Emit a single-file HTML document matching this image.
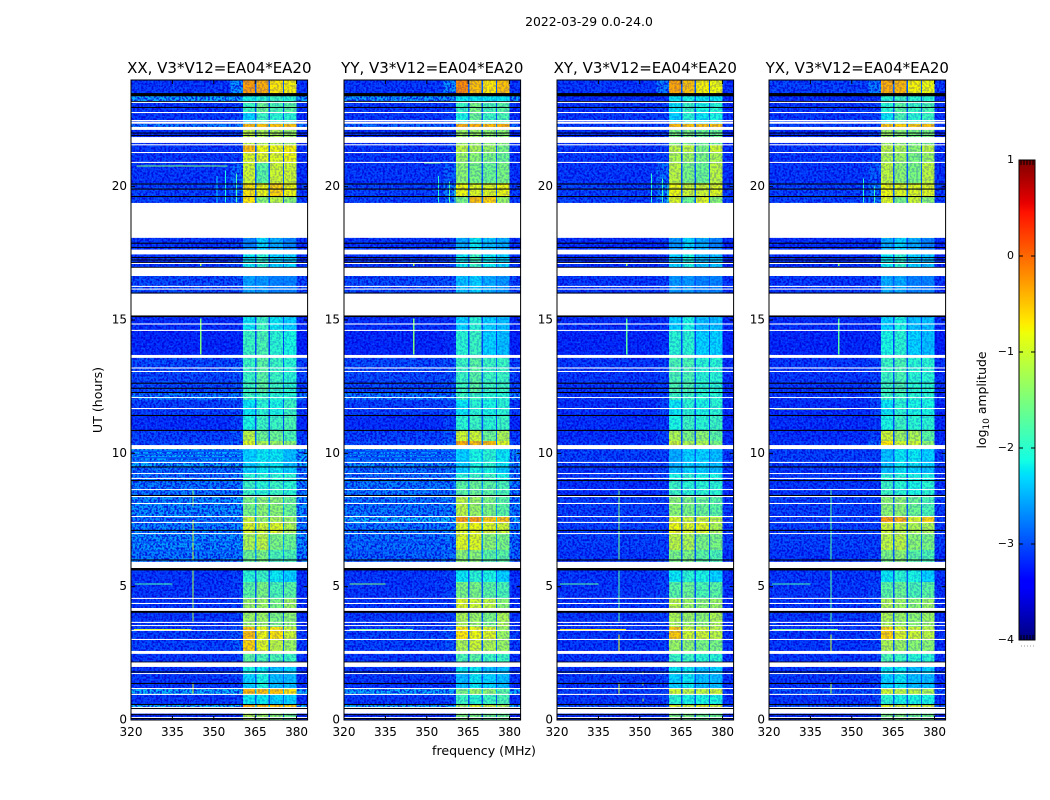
<!DOCTYPE html>
<html>
<head>
<meta charset="utf-8">
<title>2022-03-29 0.0-24.0</title>
<style>
html,body{margin:0;padding:0;background:#fff;}
svg{display:block;}
text{font-family:"DejaVu Sans","Liberation Sans",sans-serif;fill:#000;}
</style>
</head>
<body>
<svg id="chart" width="1050" height="800" viewBox="0 0 1050 800" xmlns="http://www.w3.org/2000/svg">
  <defs>
    <filter id="noiseDark" x="0" y="0" width="1" height="1" color-interpolation-filters="sRGB">
      <feTurbulence type="fractalNoise" baseFrequency="0.48" numOctaves="1" seed="3"/>
      <feColorMatrix type="matrix" values="0 0 0 0 0  0 0 0 0 0  0 0 0 0 0.85  6 0 0 0 -2.6"/>
    </filter>
    <filter id="noiseLight" x="0" y="0" width="1" height="1" color-interpolation-filters="sRGB">
      <feTurbulence type="fractalNoise" baseFrequency="0.48" numOctaves="1" seed="11"/>
      <feColorMatrix type="matrix" values="0 0 0 0 0.05  0 0 0 0 0.5  0 0 0 0 1  6 0 0 0 -3.2"/>
    </filter>
  </defs>
  <text x="589" y="26" font-size="12.4" text-anchor="middle">2022-03-29 0.0-24.0</text>
  <text x="484" y="755" font-size="12.6" text-anchor="middle">frequency (MHz)</text>
  <text transform="translate(102,400) rotate(-90)" font-size="12.6" text-anchor="middle">UT (hours)</text>
  <text transform="translate(986,400) rotate(-90)" font-size="12.4" text-anchor="middle">log<tspan font-size="9" dy="3">10</tspan><tspan dy="-3"> amplitude</tspan></text>
  <g id="panels"></g>
  <g id="colorbar"></g>
</svg>
<script>
// ---- categories and ticks ----
const panelNames = ['XX, V3*V12=EA04*EA20','YY, V3*V12=EA04*EA20','XY, V3*V12=EA04*EA20','YX, V3*V12=EA04*EA20'];
const freqTicks = [320,335,350,365,380];
const hourTicks = [0,5,10,15,20];
const colorbarTicks = [-4,-3,-2,-1,0,1];

// frequency columns (MHz); columnSource picks the value index in each row
const columnEdges = [320,356,360.5,365,365.5,369.8,370.4,375,375.5,380,384];
const columnSource = [0,1,2,-1,3,-1,4,-1,5,0];

// time rows: upper edge in UT hours of each row, last entry closes the final row
const rowEdges = [24,23.40,23.14,22.76,22.35,22.13,21.56,21.26,20.89,20.14,19.61,18.08,17.63,16.65,15.11,14.63,13.58,12.30,12.00,11.44,10.84,10.46,10.16,9.49,9.26,8.96,8.40,7.61,7.39,6.98,6.38,5.70,5.18,4.58,4.05,3.49,3.00,2.48,1.99,1.73,1.16,0.94,0.56,0.45,0];

// log10 amplitude per row: [bg-low, bg-high, band1, band2, band3, band4]
const valuesXX = [
[-3.05,-2.6,-.3,-.4,-.7,-.75],[-2.5,-2.5,-2.1,-2,-1.9,-2],[-3.05,-3,-1.9,-1.6,-1.8,-1.7],[-3.05,-3,-2.3,-1.9,-2,-2],
[-2.7,-2.7,-.45,-.5,-.5,-.5],[-3.1,-3,-1.1,-1.2,-1.2,-1.3],[-3.05,-3,-.5,-.8,-.8,-.75],[-3.05,-3,-.9,-.9,-.9,-.8],
[-3.05,-2.8,-1,-1.7,-1,-1],[-3,-2.8,-.7,-.8,-.6,-.8],[-3,-2.8,-.7,-1.4,-1.1,-1.4],[-3.05,-3,-2.7,-2.3,-2.5,-2.7],
[-3.05,-3,-2.2,-2,-2.3,-2.3],[-2.95,-2.9,-2.55,-2.6,-2.7,-2.7],[-3.1,-3.1,-2.2,-1.9,-2.2,-2.3],[-3.15,-3.15,-1.9,-1.8,-2,-2.1],
[-2.95,-2.9,-1.9,-1.7,-1.9,-2],[-2.7,-2.7,-1.9,-1.9,-2,-2],[-3,-2.95,-2.2,-2,-2.1,-1.9],[-3.1,-3,-2.1,-1.9,-1.9,-1.8],
[-3,-2.9,-1.1,-1.6,-1.6,-1.8],[-2.95,-2.85,-.9,-1.2,-1.3,-1.4],[-2.5,-2.5,-2.3,-2.2,-2.2,-2.4],[-2.75,-2.7,-2.3,-2.2,-2.2,-2.3],
[-2.75,-2.7,-2,-2,-2,-2],[-2.7,-2.7,-1.9,-2,-1.9,-2],[-2.6,-2.55,-1.5,-1.4,-1.4,-1.6],[-2.7,-2.6,-1,-1.3,-1.2,-1.3],
[-2.65,-2.6,-.9,-1,-.9,-1.2],[-2.6,-2.6,-1.2,-1.1,-1.5,-1.6],[-2.7,-2.7,-1.6,-1.5,-1.8,-1.8],[-3.05,-3,-2,-1.9,-2.2,-2.3],
[-3.05,-3,-1.7,-1.5,-1.8,-1.7],[-3.05,-3,-1.3,-1.3,-1.5,-1.3],[-3.05,-3,-1.3,-1.3,-1.5,-1.4],[-3,-2.9,-.5,-.8,-.7,-1],
[-3,-2.85,-.6,-.9,-1.1,-1.3],[-3.05,-3,-1.7,-1.8,-1.8,-1.9],[-3.05,-3,-2.1,-2.2,-2.4,-2.3],[-3.05,-3,-2.3,-2.1,-2.4,-2.4],
[-2.45,-2.45,-.45,-.5,-.5,-.7],[-3.05,-3,-2.2,-2.2,-2.3,-2.3],[-2.4,-2.4,-.4,-.5,-.5,-.6],[-3.1,-3.05,-1.2,-1.3,-1.4,-1.6]];

const valuesYY = [
[-3.05,-2.6,-.2,-.5,-.7,-.5],[-2.55,-2.55,-2.2,-2.2,-2.2,-2.2],[-3.05,-3,-1.9,-1.5,-1.8,-1.7],[-3.05,-3,-2.1,-1.6,-1.9,-1.8],
[-2.8,-2.8,-.4,-.4,-.45,-.4],[-3.1,-3,-1.3,-1.3,-1.4,-1.4],[-3.05,-3,-1.1,-1.2,-1.3,-1.5],[-3.05,-3,-1.3,-1.4,-1.5,-1.6],
[-3.05,-2.85,-1.4,-1.5,-1.6,-1.5],[-3,-2.7,-.8,-.9,-.9,-.8],[-3,-2.8,-1.5,-.5,-.6,-1.3],[-3.05,-3,-2.5,-2.2,-2.4,-2.5],
[-3.05,-3,-2.2,-1.9,-2.2,-2.3],[-2.95,-2.9,-2.4,-2.3,-2.5,-2.6],[-3.1,-3.1,-2.3,-2,-2.3,-2.4],[-3.15,-3.1,-2,-1.9,-2.3,-2.4],
[-2.95,-2.9,-1.9,-1.7,-1.9,-1.9],[-2.7,-2.7,-1.9,-1.9,-2,-2],[-3,-2.95,-2.2,-2,-2.1,-2],[-3.1,-3,-2,-1.9,-2,-1.9],
[-3,-2.9,-1,-1,-1.6,-1.2],[-2.95,-2.8,-.4,-.5,-.5,-.9],[-2.6,-2.6,-2.3,-2.1,-2,-2.2],[-2.75,-2.7,-2.3,-2.1,-2.1,-2.3],
[-2.75,-2.7,-2,-1.9,-1.9,-2.1],[-2.7,-2.7,-1.7,-1.6,-1.7,-1.8],[-2.7,-2.65,-1.1,-1.3,-1.5,-1.7],[-2.45,-2.4,-.3,-.3,-.55,-.5],
[-2.7,-2.65,-.9,-.8,-.9,-1],[-2.75,-2.7,-.9,-.9,-1.4,-1.5],[-2.8,-2.75,-1.4,-1.4,-1.7,-1.7],[-3.05,-3,-2.2,-2,-2.1,-2.3],
[-3.05,-3,-1.5,-1.5,-1.7,-1.8],[-3.05,-3,-.9,-1,-1.1,-1.4],[-3.05,-3,-1.2,-1.3,-1.5,-1.2],[-3,-2.9,-.7,-.8,-.9,-1.3],
[-3,-2.9,-1.2,-1,-1.2,-1.3],[-3.05,-3,-1.8,-1.7,-1.9,-1.9],[-3.05,-3,-2.2,-2.2,-2.4,-2.4],[-3.05,-3,-2.4,-2.2,-2.3,-2.4],
[-2.5,-2.5,-1.5,-1.3,-1.4,-1.7],[-3.05,-3,-1.9,-2,-1.9,-1.8],[-2.45,-2.45,-1.3,-.9,-1,-1.2],[-3.1,-3.05,-1.5,-1.5,-1.6,-1.6]];

const valuesXY = [
[-3.05,-2.7,-.35,-.5,-.75,-.8],[-3.1,-3.1,-2.2,-2.1,-2.2,-2.2],[-3.05,-3,-2.2,-1.9,-2.1,-2],[-3.05,-3,-2.3,-2,-2.2,-2.1],
[-3,-2.95,-.45,-.5,-.5,-.5],[-3.1,-3,-1.5,-1.5,-1.6,-1.6],[-3.05,-3,-1.1,-1.1,-1.5,-1],[-3.05,-3,-1.2,-1.3,-1.5,-1.2],
[-3.05,-2.8,-1.1,-1.5,-1.6,-1.1],[-3,-2.7,-.8,-1,-1,-.9],[-3,-2.7,-.9,-1.6,-.9,-1.4],[-3.1,-3.05,-2.6,-2.3,-2.5,-2.7],
[-3.1,-3.05,-2.3,-2.1,-2.4,-2.4],[-3.05,-3,-2.6,-2.6,-2.7,-2.7],[-3.1,-3.1,-2.3,-2.1,-2.4,-2.4],[-3.15,-3.1,-2,-2,-2.3,-2.3],
[-3.05,-3,-1.8,-1.8,-2,-2],[-3.05,-3,-1.9,-1.9,-2,-2],[-3.1,-3,-2.2,-2,-2.1,-2],[-3.1,-3.05,-2.1,-1.9,-2,-1.9],
[-3.1,-3,-1.2,-1.5,-1.4,-1.7],[-3.05,-2.95,-1,-1.2,-1.2,-1.5],[-3,-3,-2.5,-2.3,-2.3,-2.4],[-3.05,-3,-2.4,-2.3,-2.3,-2.4],
[-3.05,-3,-2.1,-2,-2.1,-2.1],[-3.1,-3.05,-1.9,-2,-2,-2],[-3,-3,-1.4,-1.5,-1.6,-1.7],[-3,-3,-.9,-1,-1,-1.1],
[-3,-3,-.8,-.9,-.9,-1.2],[-3,-3,-1.1,-1.2,-1.5,-1.5],[-3.05,-3,-1.5,-1.5,-1.7,-1.8],[-3.05,-3,-2.2,-2,-2.1,-2.3],
[-3.05,-3,-1.7,-1.6,-1.8,-1.7],[-3.05,-3,-1.1,-1.3,-1.4,-1.3],[-3.05,-3,-1.2,-1.3,-1.4,-1.2],[-3.05,-3,-.55,-1,-1,-1.1],
[-3.05,-3,-1.3,-1.4,-1.5,-1.5],[-3.05,-3,-1.9,-1.9,-2,-2],[-3.05,-3,-2.2,-2.2,-2.4,-2.3],[-3.05,-3,-2.3,-2.2,-2.4,-2.4],
[-3,-3,-1,-1.1,-1.1,-1],[-3.05,-3,-2,-2.1,-2.1,-2.1],[-2.9,-2.9,-.9,-1,-.9,-1],[-3.1,-3.05,-1.5,-1.5,-1.6,-1.6]];

const valuesYX = [
[-3,-2.7,-.4,-.45,-.75,-.8],[-3.1,-3.1,-2,-1.9,-2,-2],[-3.05,-3,-2,-1.7,-1.9,-1.8],[-3.05,-3,-2.2,-1.8,-2,-1.9],
[-3,-2.95,-.5,-.55,-.55,-.5],[-3.1,-3,-1.3,-1.4,-1.5,-1.5],[-3.05,-3,-1.1,-1.2,-1.4,-1.1],[-3.05,-3,-1.2,-1.3,-1.5,-1.3],
[-3.05,-2.85,-1.1,-1.4,-1.5,-1.1],[-3,-2.75,-.8,-.9,-.9,-.9],[-3,-2.75,-.9,-1.5,-1,-1.4],[-3.1,-3.05,-2.5,-2.3,-2.5,-2.7],
[-3.1,-3.05,-2.2,-2,-2.3,-2.4],[-3.05,-3,-2.5,-2.5,-2.7,-2.7],[-3.1,-3.1,-2.3,-2.1,-2.4,-2.4],[-3.15,-3.1,-2.1,-2,-2.3,-2.4],
[-3.05,-3,-1.9,-1.8,-2,-2],[-3.05,-3,-1.9,-1.9,-2,-2],[-3.1,-3,-2.2,-2,-2.1,-2.1],[-3.1,-3.05,-2.1,-1.9,-2,-2],
[-3.1,-3,-1,-1.3,-1.2,-1.7],[-3.05,-2.8,-.7,-1,-1,-1.4],[-3,-3,-2.4,-2.2,-2.2,-2.3],[-3.05,-3,-2.4,-2.2,-2.3,-2.4],
[-3.05,-3,-2,-2,-2.1,-2.1],[-3.05,-3.05,-1.9,-2,-2.1,-2],[-3,-3,-1.4,-1.4,-1.6,-1.8],[-3,-3,-.3,-.4,-.9,-.6],
[-3,-3,-1,-1.1,-1.2,-1.2],[-3,-3,-1.1,-1.1,-1.4,-1.5],[-3.05,-3,-1.5,-1.4,-1.7,-1.8],[-3.05,-3,-2.2,-2,-2.1,-2.3],
[-3.05,-3,-1.7,-1.6,-1.8,-1.7],[-3.05,-3,-1.2,-1.3,-1.4,-1.3],[-3.05,-3,-1.2,-1.3,-1.4,-1.3],[-3.05,-3,-.6,-.9,-1,-1.1],
[-3.05,-3,-1.2,-1.3,-1.4,-1.4],[-3.05,-3,-1.8,-1.9,-2,-2],[-3.05,-3,-2.2,-2.2,-2.4,-2.3],[-3.05,-3,-2.3,-2.2,-2.4,-2.4],
[-2.9,-2.9,-1,-1.1,-1.1,-1.2],[-3.05,-3,-2,-2.1,-2.1,-2.1],[-2.9,-2.9,-.9,-1,-1,-1],[-3.1,-3.05,-1.5,-1.5,-1.6,-1.6]];

const panelValues = [valuesXX,valuesYY,valuesXY,valuesYX];

// narrow-band interference and faint stripes: [freqStart, freqEnd, hourTop, hourBottom, value]
const spikesXX = [[345,345.5,15.05,13.7,-1.5],[342.2,342.55,8.6,8,-1.4],[342.2,342.55,7.5,6,-1],[342.2,342.55,5.6,3.7,-1.2],[342.2,342.55,1.4,1,-1],[321.5,335,5.12,5.08,-1.8],[321,342,3.42,3.38,-.9],[322,355,20.8,20.76,-1.5],[354,354.35,20.6,19.4,-2.1],[358,358.35,20.5,19.4,-1.8],[351,351.35,20.4,19.4,-2.3],[345,345.6,17.1,17.02,-1.2],[320,360.5,10.1,10.05,-2.95],[320,360.5,9.98,9.93,-2.95],[320,360.5,9.86,9.81,-2.95],[320,360.5,9.74,9.69,-2.95],[320,360.5,6.7,6.66,-2.95],[320,360.5,6.35,6.31,-2.95]];
const spikesYY = [[345,345.5,15.05,13.7,-1.5],[322,335,5.12,5.08,-1.5],[322,345,3.42,3.38,-1.5],[349,355,20.9,20.86,-1.6],[354,354.35,20.4,19.4,-2],[358,358.35,20.2,19.4,-1.8],[360,360.3,20,19.4,-1.8],[345,345.6,17.1,17.02,-1.2],[320,360.5,10.1,10.05,-3],[320,360.5,9.98,9.93,-3],[320,360.5,9.86,9.81,-3],[320,360.5,9.74,9.69,-3],[320,360.5,6.7,6.66,-3],[320,360.5,6.35,6.31,-3]];
const spikesXY = [[345,345.5,15.05,13.7,-1.7],[342.2,342.55,8.6,6,-1.5],[342.2,342.55,5.6,3.7,-1.7],[342.2,342.55,3.2,2.5,-.8],[342.2,342.55,1.4,1,-1],[321,335,5.12,5.08,-1.7],[321,345,3.42,3.38,-.7],[354,354.35,20.5,19.4,-2],[358,358.35,20.3,19.4,-1.9],[360,360.3,20.1,19.4,-1.9],[345,345.6,17.1,17.02,-1.2],[351,351.3,1.8,1.7,-1.3],[351,351.3,1.4,1.3,-1.3],[351,351.3,.8,.7,-1.3]];
const spikesYX = [[345,345.5,15.05,13.7,-1.7],[342.2,342.55,8.6,6,-1.7],[342.2,342.55,5.6,3.7,-1.7],[342.2,342.55,3.2,2.5,-1],[342.2,342.55,1.4,1,-1.2],[321,335,5.12,5.08,-1.8],[321,345,3.42,3.38,-1.5],[322,348,11.68,11.66,-1],[354,354.35,20.3,19.4,-2],[358,358.35,20,19.4,-1.9],[345,345.6,17.1,17.02,-1.3]];
const panelSpikes = [spikesXX,spikesYY,spikesXY,spikesYX];

// flagged time ranges shared by all panels: start hour, end hour, kind (W blank, K zero)
const flagTop = [23.51,23.21,23.18,22.99,22.80,22.50,22.44,22.24,22.03,21.94,21.86,21.59,21.30,20.93,20.12,19.93,19.65,19.39,17.90,17.74,17.64,17.36,17.27,17.18,17.14,16.99,16.96,16.28,16.18,16.03,15.99,15.17,14.87,14.63,13.69,13.22,13.09,12.65,12.46,12.30,12.11,11.70,11.44,10.88,10.31,9.68,9.51,9.26,9.08,9.00,8.66,8.44,8.40,8.14,7.65,7.43,7.13,7.01,6.02,5.93,5.70,4.58,4.39,4.20,4.09,3.68,3.56,3.38,3.04,2.59,2.19,2.16,1.82,1.76,1.39,1.20,0.98,0.60,0.49,0.45,0.41,0.22,0.11,0.075];
const flagBottom = [23.39,23.18,23.14,22.96,22.76,22.46,22.36,22.13,22.00,21.91,21.64,21.55,21.26,20.89,20.08,19.89,19.61,18.08,17.86,17.71,17.46,17.33,17.24,17.15,17.10,16.96,16.65,16.24,16.14,15.99,15.17,15.11,14.83,14.59,13.58,13.18,13.05,12.61,12.42,12.26,12.08,11.66,11.40,10.84,10.16,9.64,9.47,9.23,9.04,8.96,8.63,8.40,8.36,8.10,7.61,7.39,7.09,6.98,5.98,5.70,5.61,4.54,4.35,4.09,4.02,3.64,3.53,3.34,3.00,2.48,2.16,1.99,1.79,1.73,1.35,1.16,0.94,0.56,0.45,0.41,0.24,0.19,0.075,0.05];
const flagKind = 'KKWKWWWWKKWWWWKKKWKKWKKKWKWWWKWKWWWWWKKKWWKKWWKWWKWKWWWWKWKWKWWWKWWWWWKWKWKWWKWKWKWK'.split('');

// ---- axes ----
const SVGNS = 'http://www.w3.org/2000/svg';
const panelLeft = [131,344,557,769];
const panelWidth = 176.6;
const plotTop = 80;
const plotBottom = 720;
const freqMin = 320;
const freqMax = 384;
const hourMax = 24;
function xScale(panel, f){ return panelLeft[panel] + (f - freqMin) / (freqMax - freqMin) * panelWidth; }
function yScale(h){ return plotBottom - h / hourMax * (plotBottom - plotTop); }
const cbTop = 160, cbBottom = 640, cbLeft = 1019, cbRight = 1035;
function cbScale(v){ return cbBottom - (v + 4) / 5 * (cbBottom - cbTop); }

function jet(v){
  const t = Math.max(0, Math.min(1, (v + 4) / 5));
  function ramp(points){
    for (let i = 1; i < points.length; i++){
      if (t <= points[i][0]){
        const a = points[i-1], b = points[i];
        return a[1] + (b[1]-a[1]) * (t-a[0]) / (b[0]-a[0]);
      }
    }
    return points[points.length-1][1];
  }
  const r = ramp([[0,0],[.35,0],[.66,1],[.89,1],[1,.5]]);
  const g = ramp([[0,0],[.125,0],[.375,1],[.64,1],[.91,0],[1,0]]);
  const b = ramp([[0,.5],[.11,1],[.34,1],[.65,0],[1,0]]);
  return 'rgb(' + Math.round(r*255) + ',' + Math.round(g*255) + ',' + Math.round(b*255) + ')';
}
function node(tag, parent){
  const el = document.createElementNS(SVGNS, tag);
  parent.appendChild(el);
  return el;
}
function setAll(el, attrs){ for (const k in attrs) el.setAttribute(k, attrs[k]); }

const panelsRoot = document.getElementById('panels');
panelNames.forEach(function(name, p){
  const g = node('g', panelsRoot);
  
  
  const L = panelLeft[p], R = L + panelWidth;
  const W = panelWidth, H = plotBottom - plotTop;

  const cells = node('g', g);
  
  
  cells.setAttribute('shape-rendering', 'crispEdges');
  const rows = panelValues[p];
  rows.forEach(function(vals, r){
    for (let c = 0; c < columnSource.length; c++){
      const src = columnSource[c];
      const v = src < 0 ? vals[0] + 0.15 : vals[src];
      const x0 = xScale(p, columnEdges[c]), x1 = xScale(p, columnEdges[c+1]);
      const y0 = yScale(rowEdges[r]), y1 = yScale(rowEdges[r+1]);
      const cell = node('rect', cells);
      
      
      setAll(cell, {x:x0, y:y0, width:x1-x0, height:y1-y0, fill:jet(v)});
    }
  });

  // speckle texture: strong over the quiet background, faint over the bright bands
  const bandL = xScale(p, 360.5), bandR = xScale(p, 380);
  const bgDark = node('rect', g);
  
  
  setAll(bgDark, {x:L, y:plotTop, width:bandL-L, height:H, filter:'url(#noiseDark)', opacity:0.8});
  const bgLight = node('rect', g);
  
  
  setAll(bgLight, {x:L, y:plotTop, width:bandL-L, height:H, filter:'url(#noiseLight)', opacity:0.38});
  const edgeDark = node('rect', g);
  
  
  setAll(edgeDark, {x:bandR, y:plotTop, width:R-bandR, height:H, filter:'url(#noiseDark)', opacity:0.8});
  const bandNoise = node('rect', g);
  
  
  setAll(bandNoise, {x:bandL, y:plotTop, width:bandR-bandL, height:H, filter:'url(#noiseDark)', opacity:0.24});

  panelSpikes[p].forEach(function(s){
    const sp = node('rect', g);
    
    
    setAll(sp, {x:xScale(p,s[0]), y:yScale(s[2]), width:Math.max(1,xScale(p,s[1])-xScale(p,s[0])), height:Math.max(1,yScale(s[3])-yScale(s[2])), fill:jet(s[4]), 'shape-rendering':'crispEdges'});
  });

  flagTop.forEach(function(top, i){
    const f = node('rect', g);
    
    
    setAll(f, {x:L, y:yScale(top), width:W, height:Math.max(1,yScale(flagBottom[i])-yScale(top)), fill:flagKind[i] === 'W' ? '#fff' : '#000'});
  });

  const frame = node('rect', g);
  
  
  setAll(frame, {x:L, y:plotTop, width:W, height:H, fill:'none', stroke:'#000', 'stroke-width':1});

  freqTicks.forEach(function(f){
    const x = xScale(p, f);
    const t1 = node('line', g);
    
    
    setAll(t1, {x1:x, x2:x, y1:plotBottom, y2:plotBottom-4, stroke:'#000'});
    const t2 = node('line', g);
    
    
    setAll(t2, {x1:x, x2:x, y1:plotTop, y2:plotTop+4, stroke:'#000'});
    const lab = node('text', g);
    
    
    setAll(lab, {x:x, y:736, 'font-size':12, 'text-anchor':'middle'});
    lab.textContent = f;
  });
  hourTicks.forEach(function(h){
    const y = yScale(h);
    const t1 = node('line', g);
    
    
    setAll(t1, {x1:L, x2:L+4, y1:y, y2:y, stroke:'#000'});
    const t2 = node('line', g);
    
    
    setAll(t2, {x1:R, x2:R-4, y1:y, y2:y, stroke:'#000'});
    const lab = node('text', g);
    
    
    setAll(lab, {x:L-4, y:y+3.5, 'font-size':12, 'text-anchor':'end'});
    lab.textContent = h;
  });

  const title = node('text', g);
  
  
  setAll(title, {x:L+panelWidth/2, y:73, 'font-size':15, 'text-anchor':'middle'});
  title.textContent = name;
});

// ---- colorbar ----
const cb = document.getElementById('colorbar');
const cbSwatches = node('g', cb);


cbSwatches.setAttribute('shape-rendering', 'crispEdges');
for (let y = cbTop; y < cbBottom; y++){
  const v = -4 + (cbBottom - y - 0.5) / (cbBottom - cbTop) * 5;
  const s = node('rect', cbSwatches);
  
  
  setAll(s, {x:cbLeft, y:y, width:cbRight-cbLeft, height:1.2, fill:jet(v)});
}
const cbFrame = node('rect', cb);


setAll(cbFrame, {x:cbLeft, y:cbTop, width:cbRight-cbLeft, height:cbBottom-cbTop, fill:'none', stroke:'#000'});
colorbarTicks.forEach(function(v){
  const y = cbScale(v);
  const a = node('line', cb);
  
  
  setAll(a, {x1:cbLeft, x2:cbLeft+4, y1:y, y2:y, stroke:'#000'});
  const b = node('line', cb);
  
  
  setAll(b, {x1:cbRight, x2:cbRight-4, y1:y, y2:y, stroke:'#000'});
  const lab = node('text', cb);
  
  
  setAll(lab, {x:cbLeft-5, y:y+3, 'font-size':11, 'text-anchor':'end'});
  lab.textContent = v < 0 ? '\u2212' + Math.abs(v) : String(v);
});
[2,5,8,11,14].forEach(function(dx){
  const mt = node('line', cb);
  
  
  setAll(mt, {x1:cbLeft+dx, x2:cbLeft+dx, y1:cbTop, y2:cbTop+5, stroke:'#000'});
  const mb = node('line', cb);
  
  
  setAll(mb, {x1:cbLeft+dx, x2:cbLeft+dx, y1:cbBottom, y2:cbBottom-5, stroke:'#000'});
  const dot = node('rect', cb);
  
  
  setAll(dot, {x:cbLeft+dx, y:645.5, width:1, height:1, fill:'#999'});
});
</script>
</body>
</html>
